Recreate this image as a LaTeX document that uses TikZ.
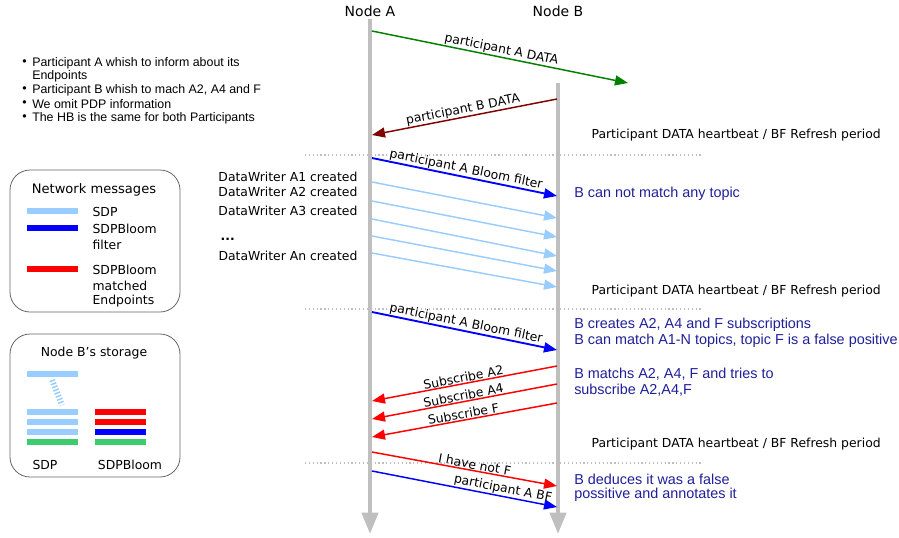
\documentclass[tikz,border=0pt]{standalone}
\usepackage{fontspec}
\setmainfont{DejaVu Sans}
\newfontfamily\arial{Liberation Sans}
\usetikzlibrary{arrows.meta}
\definecolor{lgray}{HTML}{BFBFBF}
\definecolor{msggreen}{HTML}{008000}
\definecolor{msgdred}{HTML}{800000}
\definecolor{msgblue}{HTML}{0000FF}
\definecolor{msglblue}{HTML}{99CCFF}
\definecolor{msgred}{HTML}{FF0000}
\definecolor{notecol}{HTML}{1F1F99}
\definecolor{bargreen}{HTML}{3CCB6E}
\definecolor{boxline}{HTML}{666666}
\begin{document}
\begin{tikzpicture}[x=0.75pt,y=-0.75pt,
  lbl/.style={font=\fontsize{9.3}{11}\selectfont, inner sep=1pt},
  mlbl/.style={font=\fontsize{9.3}{11}\selectfont, inner sep=0.5pt, text=black, sloped, above},
  head/.style={font=\fontsize{10.5}{12}\selectfont, inner sep=0pt},
  msg/.style={-{Triangle[length=9.75pt,width=7.5pt]}, line width=1.1pt},
  lifeline/.style={draw=lgray, line width=3pt, -{Triangle[length=16pt,width=12pt]}},
  period/.style={draw=lgray, line width=0.9pt, dotted},
  note/.style={font=\arial\fontsize{10.8}{12}\selectfont, text=notecol, anchor=west, inner sep=0pt},
  bullet/.style={font=\arial\fontsize{9.3}{11}\selectfont, anchor=west, inner sep=0pt},
  hb/.style={lbl, anchor=west},
  legbox/.style={draw=boxline, line width=0.6pt, rounded corners=15pt}
]
\useasboundingbox (0,0) rectangle (899,537);

% bullets
\foreach \yy in {63, 90, 104, 118}{
  \node[bullet] at (22,\yy) {\textbullet};
}
\node[bullet] (b1) at (32,63) {Participant A whish to inform about its};
\node[bullet] (b1b) at (32,76) {Endpoints};
\node[bullet] (b2) at (32,90) {Participant B whish to mach A2, A4 and F};
\node[bullet] (b3) at (32,104) {We omit PDP information};
\node[bullet] (b4) at (32,118) {The HB is the same for both Participants};

% period separators
\draw[period] (305,155) -- (702,155);
\draw[period] (305,309) -- (702,309);
\draw[period] (305,463) -- (702,463);

% lifelines
\node[head] (A) at (370,11) {Node A};
\node[head] (B) at (558,11) {Node B};
\coordinate (Atop) at (370,19);
\coordinate (Abot) at (370,534);
\coordinate (Btop) at (558,83);
\coordinate (Bbot) at (558,534);
\draw[lifeline] (Atop) -- (Abot);
\draw[lifeline] (Btop) -- (Bbot);

% period 1
\coordinate (g1) at (372,31);  \coordinate (g2) at (628,83);
\draw[msg, msggreen] (g1) -- node[mlbl] {participant A DATA} (g2);
\coordinate (r1) at (557,99);  \coordinate (r2) at (372,135);
\draw[msg, msgdred] (r1) -- node[mlbl] {participant B DATA} (r2);
\node[hb] (hb1) at (590,135) {Participant DATA heartbeat / BF Refresh period};

% period 2
\coordinate (bf1s) at (372,158); \coordinate (bf1e) at (557,196);
\draw[msg, msgblue, line width=1.4pt] (bf1s) -- node[mlbl] {participant A Bloom filter} (bf1e);
\node[note] (n1) at (574,194) {B can not match any topic};
\node[lbl, anchor=east] (dw1) at (359,177) {DataWriter A1 created};
\node[lbl, anchor=east] (dw2) at (359,192) {DataWriter A2 created};
\node[lbl, anchor=east] (dw3) at (359,211) {DataWriter A3 created};
\node[lbl, anchor=base west, font=\bfseries\fontsize{9.3}{11}\selectfont] (dwd) at (219,240) {...};
\node[lbl, anchor=east] (dwn) at (359,256) {DataWriter An created};
\foreach \i/\ys/\ye in {1/182/218, 2/201/237, 3/219/256, 4/236/271, 5/253/287}{
  \coordinate (s\i s) at (372,\ys);
  \coordinate (s\i e) at (557,\ye);
  \draw[msg, msglblue] (s\i s) -- (s\i e);
}
\node[hb] (hb2) at (590,291) {Participant DATA heartbeat / BF Refresh period};

% period 3
\coordinate (bf2s) at (372,312); \coordinate (bf2e) at (557,350);
\draw[msg, msgblue, line width=1.4pt] (bf2s) -- node[mlbl] {participant A Bloom filter} (bf2e);
\node[note] (n2) at (574,325) {B creates A2, A4 and F subscriptions};
\node[note] (n3) at (574,341) {B can match A1-N topics, topic F is a false positive};
\node[note] (n4) at (574,374) {B matchs A2, A4, F and tries to};
\node[note] (n5) at (574,390) {subscribe A2,A4,F};
\coordinate (sa2s) at (557,366); \coordinate (sa2e) at (372,401);
\coordinate (sa4s) at (557,384); \coordinate (sa4e) at (372,419);
\coordinate (sfs) at (557,403);  \coordinate (sfe) at (372,437);
\draw[msg, msgred] (sa2s) -- node[mlbl] {Subscribe A2} (sa2e);
\draw[msg, msgred] (sa4s) -- node[mlbl] {Subscribe A4} (sa4e);
\draw[msg, msgred] (sfs) -- node[mlbl] {Subscribe F} (sfe);
\node[hb] (hb3) at (590,444) {Participant DATA heartbeat / BF Refresh period};

% period 4
\coordinate (nfs) at (372,452); \coordinate (nfe) at (557,486);
\draw[msg, msgred] (nfs) -- node[mlbl, pos=0.55] {I have not F} (nfe);
\coordinate (bfs) at (372,471); \coordinate (bfe) at (557,507);
\draw[msg, msgblue] (bfs) -- node[mlbl, pos=0.7] {participant A BF} (bfe);
\node[note] (n6) at (574,479) {B deduces it was a false};
\node[note] (n7) at (574,495) {possitive and annotates it};

% legend: network messages
\draw[legbox] (10,170) rectangle (180,312);
\node[lbl, font=\fontsize{9.8}{11}\selectfont] (lt1) at (94,190) {Network messages};
\draw[msglblue, line width=4.5pt] (27,211) -- (78,211);
\draw[msgblue, line width=4.5pt] (27,228) -- (78,228);
\draw[msgred, line width=4.5pt] (27,269) -- (78,269);
\node[lbl, anchor=west] (l1) at (91,212) {SDP};
\node[lbl, anchor=west] (l2) at (91,229) {SDPBloom};
\node[lbl, anchor=west] (l3) at (91,245) {filter};
\node[lbl, anchor=west] (l4) at (91,270) {SDPBloom};
\node[lbl, anchor=west] (l5) at (91,286) {matched};
\node[lbl, anchor=west] (l6) at (91,301) {Endpoints};

% legend: storage
\draw[legbox] (10,334) rectangle (180,477);
\node[lbl] (lt2) at (94,353) {Node B's storage};
\fill[msglblue] (27,371) rectangle (78,377);
\draw[msglblue, line width=4.5pt, dash pattern=on 1.1pt off 1.4pt] (52,380) -- (62,405);
\foreach \yy/\c in {412/msglblue, 422/msglblue, 432/msglblue, 442/bargreen}{
  \fill[\c] (27,\yy-3) rectangle (78,\yy+3);
}
\foreach \yy/\c in {412/msgred, 422/msgred, 432/msgblue, 442/bargreen}{
  \fill[\c] (95,\yy-3) rectangle (146,\yy+3);
}
\node[lbl] (s1) at (45,465) {SDP};
\node[lbl] (s2) at (130,465) {SDPBloom};
\end{tikzpicture}
\end{document}
